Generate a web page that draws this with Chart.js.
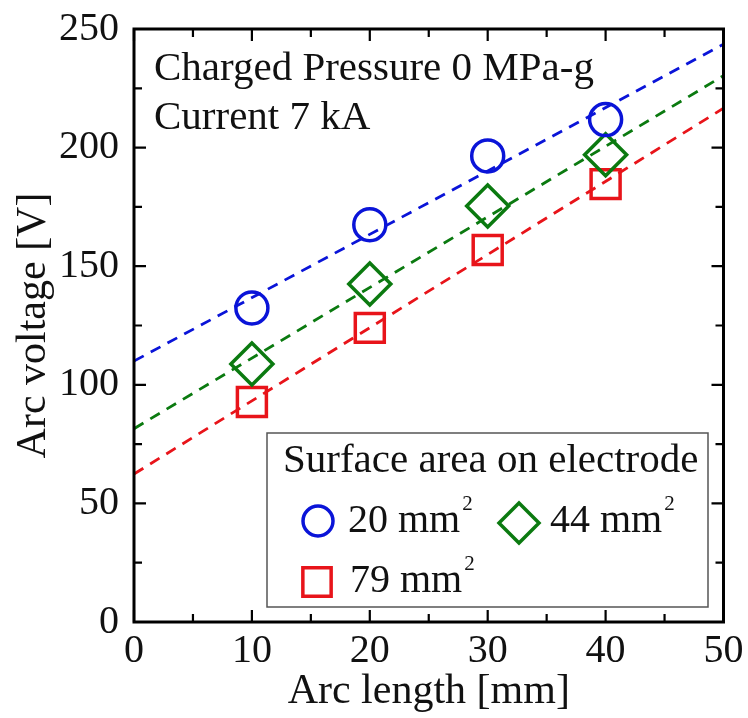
<!DOCTYPE html>
<html>
<head>
<meta charset="utf-8">
<script src="https://cdn.jsdelivr.net/npm/chart.js@4.4.1/dist/chart.umd.min.js"></script>
<style>
  html, body { margin: 0; padding: 0; background: #fff; }
  #wrap { width: 748px; height: 718px; }
</style>
</head>
<body>
<div id="wrap"><canvas id="myChart" width="748" height="718"></canvas></div>
<script>
// arc length [mm]
const arcLength = [10, 20, 30, 40];

// arc voltage [V] for each electrode surface area
const volt20 = [132.4, 167.5, 196.5, 211.8];
const volt44 = [108.8, 142.5, 175.4, 197.0];
const volt79 = [92.7, 124.0, 156.8, 184.6];

// dashed fit lines, read at x = 0 and x = 50
const fitX = [0, 50];
const fit20 = [110, 243.6];
const fit44 = [81.5, 230.3];
const fit79 = [62.4, 216.6];

const xTicks = [0, 10, 20, 30, 40, 50];
const yTicks = [0, 50, 100, 150, 200, 250];

const blue = "#0a14d8";
const green = "#0b7a10";
const red = "#e8141a";
const serif = "'Liberation Serif', 'Times New Roman', serif";

const pts = (xs, ys) => xs.map((x, i) => ({ x: x, y: ys[i] }));

function fitLine(ys, color) {
  return {
    data: pts(fitX, ys),
    showLine: true,
    borderColor: color,
    borderWidth: 2.8,
    borderDash: [11, 8],
    pointRadius: 0,
    fill: false,
  };
}

function markers(ys, color, style, r) {
  return {
    data: pts(arcLength, ys),
    showLine: false,
    pointStyle: style,
    pointRadius: r,
    pointBorderWidth: 3.5,
    pointBorderColor: color,
    pointBackgroundColor: "rgba(0,0,0,0)",
  };
}

// box frame plus inward ticks on all four sides
const frameTicks = {
  id: "frameTicks",
  afterDraw(chart) {
    const { ctx, chartArea: a, scales } = chart;
    const xs = scales.x, ys = scales.y;
    ctx.save();
    ctx.strokeStyle = "#000";
    ctx.lineWidth = 3;
    ctx.strokeRect(a.left, a.top, a.right - a.left, a.bottom - a.top);
    ctx.lineWidth = 2.2;
    ctx.beginPath();
    for (let v = 0; v <= 50; v += 5) {
      const px = xs.getPixelForValue(v);
      const len = v % 10 === 0 ? 12 : 8;
      ctx.moveTo(px, a.bottom); ctx.lineTo(px, a.bottom - len);
      ctx.moveTo(px, a.top); ctx.lineTo(px, a.top + len);
    }
    for (let v = 0; v <= 250; v += 25) {
      const py = ys.getPixelForValue(v);
      const len = v % 50 === 0 ? 12 : 8;
      ctx.moveTo(a.left, py); ctx.lineTo(a.left + len, py);
      ctx.moveTo(a.right, py); ctx.lineTo(a.right - len, py);
    }
    ctx.stroke();
    ctx.restore();
  },
};

// annotation text and the boxed legend
const notes = {
  id: "notes",
  afterDraw(chart) {
    const { ctx, chartArea: a } = chart;
    ctx.save();
    ctx.fillStyle = "#111";
    ctx.font = "41px " + serif;
    ctx.textBaseline = "alphabetic";
    ctx.fillText("Charged Pressure 0 MPa-g", a.left + 20, a.top + 51);
    ctx.fillText("Current 7 kA", a.left + 20, a.top + 100);

    // legend box
    const bx = a.left + 133, by = a.top + 404, bw = 441, bh = 174;
    ctx.fillStyle = "#fff";
    ctx.fillRect(bx, by, bw, bh);
    ctx.strokeStyle = "#555";
    ctx.lineWidth = 1.5;
    ctx.strokeRect(bx, by, bw, bh);

    ctx.fillStyle = "#111";
    ctx.font = "41px " + serif;
    ctx.fillText("Surface area on electrode", bx + 16, by + 39);

    const entries = [
      { label: "20 mm", color: blue, style: "circle", r: 15, mx: bx + 51, my: by + 88, dx: 30, dy: 11 },
      { label: "44 mm", color: green, style: "rectRot", r: 20, mx: bx + 252, my: by + 90, dx: 31, dy: 9 },
      { label: "79 mm", color: red, style: "rect", r: 20, mx: bx + 50, my: by + 149, dx: 33, dy: 10 },
    ];
    entries.forEach((e) => {
      ctx.strokeStyle = e.color;
      ctx.lineWidth = 3.5;
      ctx.fillStyle = "rgba(0,0,0,0)";
      Chart.helpers.drawPoint(ctx, { pointStyle: e.style, radius: e.r, borderWidth: 3.5 }, e.mx, e.my);
      ctx.fillStyle = "#111";
      ctx.font = "40px " + serif;
      const tx = e.mx + e.dx;
      ctx.fillText(e.label, tx, e.my + e.dy);
      const w = ctx.measureText(e.label).width;
      ctx.font = "21px " + serif;
      ctx.fillText("2", tx + w + 2, e.my + e.dy - 22);
    });
    ctx.restore();
  },
};

const tickGrid = (len) => ({
  display: true,
  drawOnChartArea: false,
  drawTicks: true,
  tickLength: len,
  color: "rgba(0,0,0,0)",
});

new Chart(document.getElementById("myChart"), {
  type: "scatter",
  data: {
    datasets: [
      fitLine(fit20, blue),
      fitLine(fit44, green),
      fitLine(fit79, red),
      markers(volt20, blue, "circle", 16),
      markers(volt44, green, "rectRot", 21),
      markers(volt79, red, "rect", 20.5),
    ],
  },
  options: {
    responsive: false,
    animation: false,
    layout: { padding: { left: 0, right: 21, top: 29, bottom: 0 } },
    plugins: { legend: { display: false }, tooltip: { enabled: false } },
    scales: {
      x: {
        type: "linear",
        min: 0,
        max: 50,
        afterBuildTicks: (s) => { s.ticks = xTicks.map((v) => ({ value: v })); },
        afterFit: (s) => { s.height = 96; s.paddingLeft = 0; s.paddingRight = 0; },
        grid: tickGrid(4),
        border: { display: false },
        ticks: { color: "#111", font: { family: serif, size: 40 }, padding: 1 },
        title: {
          display: true,
          text: "Arc length [mm]",
          color: "#111",
          font: { family: serif, size: 42 },
          padding: { top: 0, bottom: 1 },
        },
      },
      y: {
        type: "linear",
        min: 0,
        max: 250,
        afterBuildTicks: (s) => { s.ticks = yTicks.map((v) => ({ value: v })); },
        afterFit: (s) => { s.width = 134; s.paddingTop = 0; s.paddingBottom = 0; },
        grid: tickGrid(13),
        border: { display: false },
        ticks: { color: "#111", font: { family: serif, size: 40 }, padding: 2 },
        title: {
          display: true,
          text: "Arc voltage [V]",
          color: "#111",
          font: { family: serif, size: 42 },
          padding: { top: 9, bottom: 0 },
        },
      },
    },
  },
  plugins: [frameTicks, notes],
});
</script>
</body>
</html>
